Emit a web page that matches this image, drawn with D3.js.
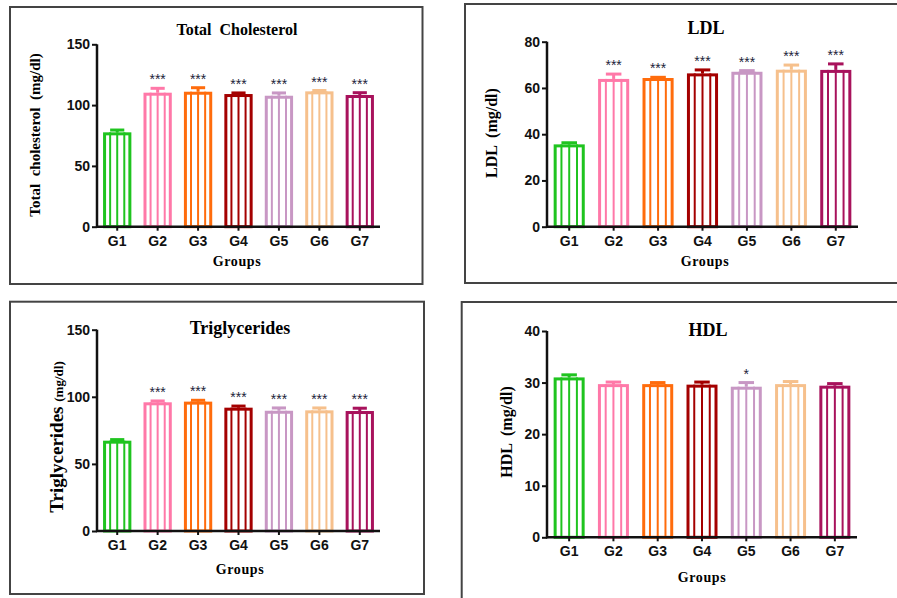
<!DOCTYPE html>
<html><head><meta charset="utf-8">
<script src="https://cdn.jsdelivr.net/npm/d3@7"></script>
<style>body{margin:0;background:#fff}svg{display:block}</style>
</head><body><svg id="c" width="897" height="598"></svg>
<script>
// ---- data ----
const groups = ["G1","G2","G3","G4","G5","G6","G7"];
const colors = ["#1fc41f","#ff78a8","#ff6c0c","#a40000","#c897c4","#f6c08c","#a8125c"];

const tcMean = [77.6, 110.2, 111.0, 109.1, 107.7, 111.3, 108.3];
const tcErr  = [1.9, 3.6, 3.3, 0.9, 2.3, 0.7, 1.9];
const tcSig  = ["", "***","***","***","***","***","***"];
const tcTicks = [0, 50, 100, 150];

const ldlMean = [35.6, 63.9, 64.3, 66.3, 67.0, 67.9, 67.8];
const ldlErr  = [0.7, 2.1, 0.3, 1.5, 0.5, 2.0, 2.6];
const ldlSig  = ["", "***","***","***","***","***","***"];
const ldlTicks = [0, 20, 40, 60, 80];

const tgMean = [67.3, 95.9, 96.4, 91.9, 89.6, 89.9, 89.4];
const tgErr  = [0.8, 1.0, 1.0, 1.2, 2.1, 1.8, 2.1];
const tgSig  = ["", "***","***","***","***","***","***"];
const tgTicks = [0, 50, 100, 150];

const hdlMean = [31.0, 29.7, 29.7, 29.6, 29.2, 29.7, 29.4];
const hdlErr  = [0.5, 0.4, 0.3, 0.5, 0.8, 0.5, 0.4];
const hdlSig  = ["", "", "", "", "*", "", ""];
const hdlTicks = [0, 10, 20, 30, 40];

const svg = d3.select("#c");

function panel(cfg){
  const g = svg.append("g");
  g.append("rect").attr("x",cfg.box[0]).attr("y",cfg.box[1])
    .attr("width",cfg.box[2]-cfg.box[0]).attr("height",cfg.box[3]-cfg.box[1])
    .attr("fill","none").attr("stroke","#444").attr("stroke-width",2);

  const x = d3.scaleBand().domain(groups).range([cfg.px0, cfg.px1])
    .paddingInner(0.3).paddingOuter(0.15);
  const y = d3.scaleLinear().domain([0, cfg.ymax]).range([cfg.py0, cfg.py1]);
  const bw = x.bandwidth();

  const bars = g.selectAll("g.bar").data(groups).enter().append("g");
  bars.each(function(d,i){
    const b = d3.select(this);
    const c = colors[i];
    const x0 = x(d), top = y(cfg.mean[i]), bot = y(0);
    const et = y(cfg.mean[i] + cfg.err[i]);
    b.append("line").attr("x1",x0+bw/2).attr("x2",x0+bw/2).attr("y1",top).attr("y2",et)
      .attr("stroke",c).attr("stroke-width",3);
    b.append("line").attr("x1",x0+bw/2-bw*0.25).attr("x2",x0+bw/2+bw*0.25).attr("y1",et).attr("y2",et)
      .attr("stroke",c).attr("stroke-width",3);
    b.append("rect").attr("x",x0+1.5).attr("y",top+1.5).attr("width",bw-3).attr("height",bot-top-1.5)
      .attr("fill","#fff").attr("stroke",c).attr("stroke-width",3);
    for(let k=1;k<=3;k++){
      const xx = x0 + bw*k/4;
      b.append("line").attr("x1",xx).attr("x2",xx).attr("y1",top).attr("y2",bot)
        .attr("stroke",c).attr("stroke-width",2);
    }
    if(cfg.sig[i]){
      b.append("text").attr("x",x0+bw/2).attr("y",et-cfg.sigOff)
        .attr("text-anchor","middle").attr("font-family","Liberation Sans, Arial, sans-serif")
        .attr("font-size",14).attr("fill","#22223a").text(cfg.sig[i]);
    }
  });

  const yAx = g.append("g").attr("transform",`translate(${cfg.px0},0)`)
    .call(d3.axisLeft(y).tickValues(cfg.ticks).tickSize(5).tickSizeOuter(0).tickPadding(2));
  const xAx = g.append("g").attr("transform",`translate(0,${cfg.py0})`)
    .call(d3.axisBottom(x).tickSize(4).tickSizeOuter(0).tickPadding(5));
  [yAx,xAx].forEach(a=>{
    a.select(".domain").attr("stroke","#111").attr("stroke-width",2.5);
    a.selectAll(".tick line").attr("stroke","#111").attr("stroke-width",2);
    a.selectAll("text").attr("font-family","Liberation Sans, Arial, sans-serif")
      .attr("font-weight","bold").attr("font-size",14).attr("fill","#111");
  });
  yAx.select(".domain").attr("d",`M0,${cfg.py0+1}V${cfg.py1}`);
  xAx.select(".domain").attr("d",`M${cfg.px0-1},0H${cfg.px1}`);

  const serif = "Liberation Serif, Times New Roman, serif";
  g.append("text").attr("x",cfg.title[1]).attr("y",cfg.title[2]).attr("text-anchor","middle")
    .attr("font-family",serif).attr("font-weight","bold").attr("font-size",cfg.title[3])
    .style("white-space","pre").text(cfg.title[0]);
  g.append("text").attr("x",cfg.xlab[0]).attr("y",cfg.xlab[1]).attr("text-anchor","middle")
    .attr("font-family",serif).attr("font-weight","bold").attr("font-size",14)
    .attr("letter-spacing",0.6).text("Groups");
  const yl = g.append("text").attr("transform",`translate(${cfg.ylab[0]},${cfg.ylab[1]}) rotate(-90)`)
    .attr("text-anchor","middle").attr("font-family",serif).attr("font-weight","bold")
    .style("white-space","pre");
  cfg.ylabParts.forEach(p=>yl.append("tspan").attr("font-size",p[1]).text(p[0]));
}

panel({box:[10,7,422.5,284], px0:97, px1:380, py0:226.7, py1:44.3, ymax:150,
  mean:tcMean, err:tcErr, sig:tcSig, ticks:tcTicks, sigOff:4,
  title:["Total  Cholesterol",237,35,16], xlab:[237,266], ylab:[40,135],
  ylabParts:[["Total  cholesterol  (mg/dl)",15]]});

panel({box:[465,4,910,283], px0:547, px1:858, py0:226.7, py1:41.7, ymax:80,
  mean:ldlMean, err:ldlErr, sig:ldlSig, ticks:ldlTicks, sigOff:4,
  title:["LDL",706,34,18], xlab:[705,266], ylab:[497,133],
  ylabParts:[["LDL  (mg/dl)",16]]});

panel({box:[10,301.7,424,594], px0:97, px1:380, py0:531, py1:329.7, ymax:150,
  mean:tgMean, err:tgErr, sig:tgSig, ticks:tgTicks, sigOff:4,
  title:["Triglycerides",240,334,18], xlab:[240,574], ylab:[63,437],
  ylabParts:[["Triglycerides ",19],["(mg/dl)",13]]});

panel({box:[461.7,302,910,620], px0:547, px1:857, py0:537.3, py1:331, ymax:40,
  mean:hdlMean, err:hdlErr, sig:hdlSig, ticks:hdlTicks, sigOff:4,
  title:["HDL",708,336,18], xlab:[702,582], ylab:[512,432],
  ylabParts:[["HDL  (mg/dl)",16]]});
</script></body></html>
